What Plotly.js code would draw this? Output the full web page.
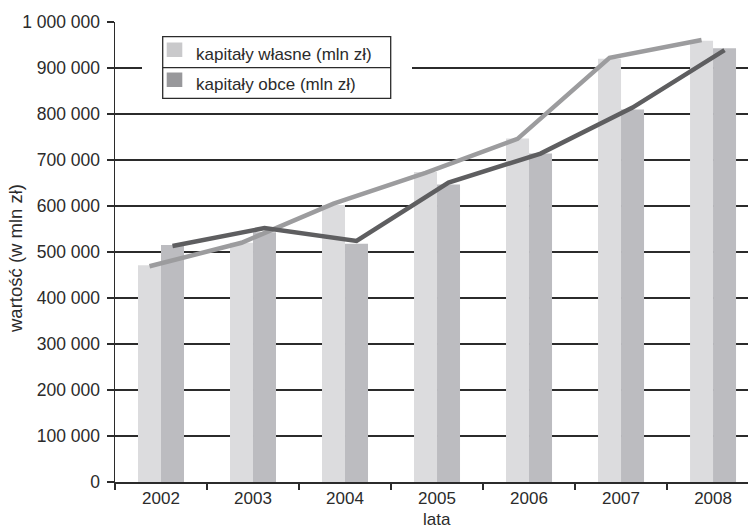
<!DOCTYPE html>
<html>
<head>
<meta charset="utf-8">
<script src="https://cdn.plot.ly/plotly-3.0.1.min.js"></script>
<style>html,body{margin:0;padding:0;background:#fff;}#chart{width:748px;height:529px;}</style>
</head>
<body>
<div id="chart"></div>
<script>
// ---- data ----
var years = ['2002', '2003', '2004', '2005', '2006', '2007', '2008'];
var barOwn = [471000, 520000, 602000, 674000, 747000, 920000, 959000];
var barForeign = [515000, 543000, 518000, 647000, 714000, 810000, 943000];
var lineOwn = [469000, 520000, 605000, 672000, 746000, 922000, 961000];
var lineForeign = [513000, 552000, 524000, 651000, 714000, 814000, 939000];
var yTickVals = [0, 100000, 200000, 300000, 400000, 500000, 600000, 700000, 800000, 900000, 1000000];
var yTickText = ['0', '100 000', '200 000', '300 000', '400 000', '500 000', '600 000', '700 000', '800 000', '900 000', '1 000 000'];
var seriesNames = ['kapitały własne (mln zł)', 'kapitały obce (mln zł)'];
var xTitle = 'lata';
var yTitle = 'wartość (w mln zł)';

// ---- layout helpers (pixel -> paper) ----
var W = 748, H = 529, L = 115, R = 0, T = 22, B = 47;
var pw = W - L - R, ph = H - T - B;
function px(x) { return (x - L) / pw; }
function py(y) { return (H - B - y) / ph; }

var FONT = 'Liberation Sans, Arial, Helvetica, sans-serif';
var ink = '#2b2b2b';

var traces = [
  { type: 'bar', x: years, y: barOwn, name: seriesNames[0], offsetgroup: 'a', marker: { color: '#dcdcde', line: { width: 0 } }, showlegend: false, hoverinfo: 'skip' },
  { type: 'bar', x: years, y: barForeign, name: seriesNames[1], offsetgroup: 'b', marker: { color: '#bcbcc0', line: { width: 0 } }, showlegend: false, hoverinfo: 'skip' },
  { type: 'scatter', mode: 'lines', x: years, y: lineOwn, offsetgroup: 'a', line: { color: '#9c9c9e', width: 4.5 }, showlegend: false, hoverinfo: 'skip' },
  { type: 'scatter', mode: 'lines', x: years, y: lineForeign, offsetgroup: 'b', line: { color: '#5e5e60', width: 4.5 }, showlegend: false, hoverinfo: 'skip' }
];

var shapes = [
  { type: 'rect', xref: 'paper', yref: 'paper', x0: px(142), x1: px(412), y0: py(106), y1: py(30), fillcolor: '#ffffff', line: { width: 0 }, layer: 'above' },
  { type: 'rect', xref: 'paper', yref: 'paper', x0: px(162.7), x1: px(390.7), y0: py(98.3), y1: py(36.7), fillcolor: 'rgba(0,0,0,0)', line: { color: ink, width: 1.3 }, layer: 'above' },
  { type: 'line', xref: 'paper', yref: 'paper', x0: px(162.7), x1: px(390.7), y0: py(67.7), y1: py(67.7), line: { color: ink, width: 1.3 }, layer: 'above' },
  { type: 'rect', xref: 'paper', yref: 'paper', x0: px(166.7), x1: px(182.3), y0: py(57), y1: py(42.5), fillcolor: '#c9c9cb', line: { width: 0 }, layer: 'above' },
  { type: 'rect', xref: 'paper', yref: 'paper', x0: px(166.7), x1: px(182.3), y0: py(87), y1: py(72.5), fillcolor: '#98989b', line: { width: 0 }, layer: 'above' }
];

var annotations = [
  { xref: 'paper', yref: 'paper', x: px(194), y: py(54.5), xanchor: 'left', yanchor: 'middle', text: seriesNames[0], showarrow: false, font: { family: FONT, size: 17, color: ink } },
  { xref: 'paper', yref: 'paper', x: px(194), y: py(84.5), xanchor: 'left', yanchor: 'middle', text: seriesNames[1], showarrow: false, font: { family: FONT, size: 17, color: ink } },
  { xref: 'paper', yref: 'paper', x: px(436.7), y: py(519), xanchor: 'center', yanchor: 'middle', text: xTitle, showarrow: false, font: { family: FONT, size: 17, color: ink } },
  { xref: 'paper', yref: 'paper', x: px(15), y: py(259), xanchor: 'center', yanchor: 'middle', text: yTitle, textangle: -90, showarrow: false, font: { family: FONT, size: 18.5, color: ink } }
];

var layout = {
  width: W, height: H,
  margin: { l: L, r: R, t: T, b: B, pad: 0 },
  paper_bgcolor: '#ffffff', plot_bgcolor: '#ffffff',
  barmode: 'group', bargap: 0.5, bargroupgap: 0,
  scattermode: 'group', scattergap: 0.5,
  showlegend: false,
  font: { family: FONT, size: 17, color: ink },
  xaxis: {
    type: 'category', range: [-0.5, 6.38],
    tickson: 'boundaries', ticks: 'outside', ticklen: 6, tickwidth: 1.3, tickcolor: ink,
    showline: true, linecolor: ink, linewidth: 1.5,
    showgrid: false, zeroline: false, fixedrange: true,
    tickfont: { family: FONT, size: 17, color: ink }
  },
  yaxis: {
    range: [0, 1000000], tickmode: 'array', tickvals: yTickVals, ticktext: yTickText,
    ticks: 'outside', ticklen: 7, tickwidth: 1.2, tickcolor: ink, ticklabelstandoff: 3,
    showline: true, linecolor: ink, linewidth: 1.5,
    showgrid: true, gridcolor: ink, gridwidth: 1.2, zeroline: false, fixedrange: true,
    tickfont: { family: FONT, size: 17.5, color: ink }
  },
  shapes: shapes,
  annotations: annotations
};

Plotly.newPlot('chart', traces, layout, { staticPlot: true, displayModeBar: false });
</script>
</body>
</html>
